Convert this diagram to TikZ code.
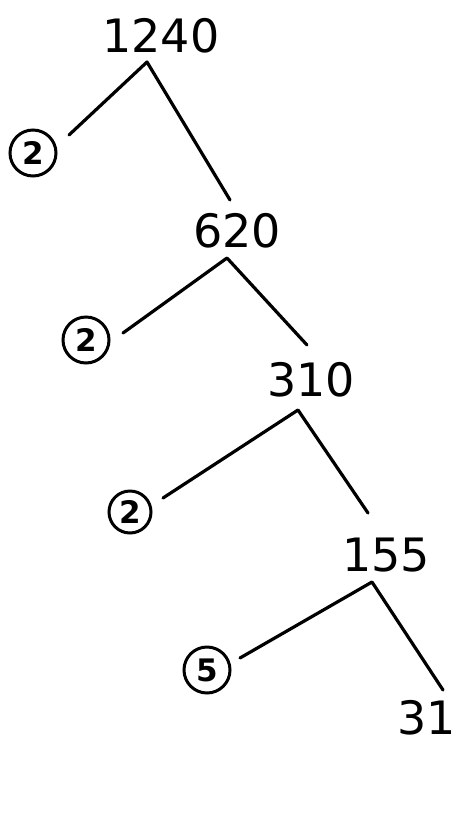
\documentclass[tikz,border=0pt]{standalone}
\usepackage{fontspec}
\newfontfamily\handfont{DejaVu Sans}
\begin{document}
\begin{tikzpicture}[x=1pt,y=-1pt,
  num/.style={font=\handfont\fontsize{46}{54}\selectfont, inner sep=0pt},
  prime/.style={circle, draw, line width=3pt, minimum size=46pt, inner sep=0pt,
    font=\handfont\bfseries\fontsize{31}{35}\selectfont},
  branch/.style={line width=3.2pt, line cap=round, line join=round}]
\useasboundingbox (0,0) rectangle (459,831);
% numbers
\node[num] (n1240) at (161,36) {1240};
\node[num] (n620) at (237,231) {620};
\node[num] (n310) at (311,380) {310};
\node[num] (n155) at (386,555) {155};
\node[num] (n31) at (427,718) {31};
% circled primes
\node[prime] (p1) at (33,153) {2};
\node[prime] (p2) at (86,340) {2};
\node[prime, minimum size=42pt] (p3) at (130,512) {2};
\node[prime] (p4) at (207,670) {5};
% apex and end coordinates
\coordinate (a1) at (147,62);
\coordinate (l1) at (69,135);
\coordinate (r1) at (230,200);
\coordinate (a2) at (227,258);
\coordinate (l2) at (123,333);
\coordinate (r2) at (307,345);
\coordinate (a3) at (298,410);
\coordinate (l3) at (163,498);
\coordinate (r3) at (368,513);
\coordinate (a4) at (372,582);
\coordinate (l4) at (240,658);
\coordinate (r4) at (443,690);
% branches
\draw[branch] (l1) -- (a1) -- (r1);
\draw[branch] (l2) -- (a2) -- (r2);
\draw[branch] (l3) -- (a3) -- (r3);
\draw[branch] (l4) -- (a4) -- (r4);
\end{tikzpicture}
\end{document}
